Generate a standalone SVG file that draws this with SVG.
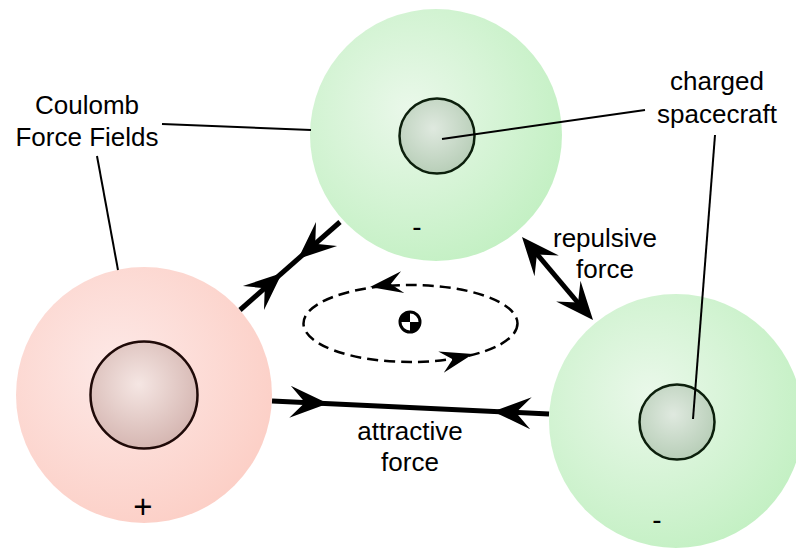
<svg xmlns="http://www.w3.org/2000/svg" xmlns:xlink="http://www.w3.org/1999/xlink" width="796" height="548" viewBox="0 0 796 548">
<defs>
  <radialGradient id="gGreen" cx="0.4" cy="0.4" r="0.65">
    <stop offset="0" stop-color="#eaf8ea"/>
    <stop offset="1" stop-color="#c3f0c3"/>
  </radialGradient>
  <radialGradient id="gRed" cx="0.4" cy="0.4" r="0.65">
    <stop offset="0" stop-color="#fde9e7"/>
    <stop offset="1" stop-color="#fccfc6"/>
  </radialGradient>
  <radialGradient id="gGreenIn" cx="0.45" cy="0.4" r="0.65">
    <stop offset="0" stop-color="#dfe9df"/>
    <stop offset="1" stop-color="#b5ccb5"/>
  </radialGradient>
  <radialGradient id="gRedIn" cx="0.45" cy="0.4" r="0.65">
    <stop offset="0" stop-color="#f5e6e3"/>
    <stop offset="1" stop-color="#d3b3ae"/>
  </radialGradient>
  <path id="ah" d="M0,0 L-38,-16 L-23,0 L-38,16 Z"/>
  <path id="ahs" d="M0,0 L-33,-11 L-21,0 L-33,11 Z"/>
</defs>
<style>
  text { font-family: "Liberation Sans", Arial, Helvetica, sans-serif; font-size: 26px; fill: #000; text-anchor: middle; }
  .sign { font-size: 28px; }
  .plus { font-size: 33px; }
  .leader { stroke: #000; stroke-width: 2; fill: none; }
  .force { stroke: #000; stroke-width: 5; fill: none; }
  .orbit { stroke: #000; stroke-width: 2.5; fill: none; stroke-dasharray: 11 6; }
  .inG { stroke: #0c1f0c; stroke-width: 2.5; fill: url(#gGreenIn); }
  .inR { stroke: #1f0a08; stroke-width: 2.5; fill: url(#gRedIn); }
</style>

<g id="field-top">
  <circle cx="436" cy="135" r="126" fill="url(#gGreen)"/>
  <circle cx="437" cy="136" r="37.5" class="inG"/>
  <text class="sign" x="417" y="236">-</text>
</g>
<g id="field-left">
  <circle cx="144" cy="395" r="128" fill="url(#gRed)"/>
  <circle cx="144" cy="395" r="53.5" class="inR"/>
  <text class="plus" x="143" y="518">+</text>
</g>
<g id="field-right">
  <circle cx="676" cy="421" r="127" fill="url(#gGreen)"/>
  <circle cx="677" cy="422" r="37.5" class="inG"/>
  <text class="sign" x="657" y="529">-</text>
</g>

<g id="label-coulomb">
  <text x="87" y="114">Coulomb</text>
  <text x="87" y="146">Force Fields</text>
</g>
<g id="label-spacecraft">
  <text x="717" y="90">charged</text>
  <text x="717" y="123">spacecraft</text>
</g>
<g id="label-repulsive">
  <text x="605" y="247">repulsive</text>
  <text x="605" y="278">force</text>
</g>
<g id="label-attractive">
  <text x="410" y="440">attractive</text>
  <text x="410" y="471">force</text>
</g>

<g id="center-of-mass">
  <circle cx="410" cy="322" r="10" fill="#fff" stroke="#000" stroke-width="3"/>
  <path d="M410,322 L410,312 A10,10 0 0 0 400,322 Z M410,322 L410,332 A10,10 0 0 0 420,322 Z" fill="#000"/>
</g>

<g id="connectors">
  <line class="leader" x1="162" y1="124" x2="311" y2="130"/>
  <line class="leader" x1="97" y1="156" x2="118" y2="270"/>
  <line class="leader" x1="442" y1="139" x2="645" y2="110"/>
  <line class="leader" x1="715" y1="135" x2="693" y2="419"/>

  <line class="force" x1="240" y1="310" x2="340" y2="222"/>
  <use xlink:href="#ah" transform="translate(282,273) rotate(-41.3)"/>
  <use xlink:href="#ah" transform="translate(298,259) rotate(138.7)"/>

  <line class="force" x1="272" y1="401" x2="549" y2="414"/>
  <use xlink:href="#ah" transform="translate(328,403.6) rotate(2.7)"/>
  <use xlink:href="#ah" transform="translate(493,411.4) rotate(182.7)"/>

  <line class="force" x1="536" y1="253" x2="579" y2="304"/>
  <use xlink:href="#ah" transform="translate(522,237) rotate(229.5)"/>
  <use xlink:href="#ah" transform="translate(593,320) rotate(49.5)"/>

  <ellipse class="orbit" cx="410.5" cy="323.5" rx="107" ry="38.5"/>
  <use xlink:href="#ahs" transform="translate(370,287) rotate(171.7)"/>
  <use xlink:href="#ahs" transform="translate(473,354) rotate(-14.4)"/>
</g>
</svg>
